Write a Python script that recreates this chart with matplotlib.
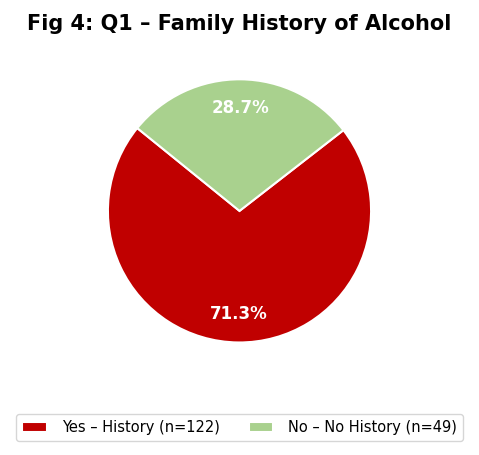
import matplotlib.pyplot as plt

labels = ["Yes – History (n=122)", "No – No History (n=49)"]
counts = [122, 49]
colors = ["#c00000", "#a9d18e"]

fig = plt.figure(figsize=(4.79, 4.55), dpi=100)
ax = fig.add_axes([0.0, 0.175, 1.0, 0.723])

wedges, texts, autotexts = ax.pie(
    counts, colors=colors, startangle=141, autopct="%1.1f%%",
    pctdistance=0.78, radius=1.0,
    wedgeprops=dict(edgecolor="white", linewidth=1.5),
    textprops=dict(color="white", fontsize=12, fontweight="bold"))
ax.set_aspect("equal")

fig.suptitle("Fig 4: Q1 – Family History of Alcohol", fontsize=15,
             fontweight="bold", y=0.97)

fig.legend(wedges, labels, loc="lower center", ncol=2, fontsize=10.5,
           bbox_to_anchor=(0.5, 0.015), handlelength=1.7, handletextpad=1.0,
           columnspacing=2.0)

fig.savefig("out.png", dpi=100)
